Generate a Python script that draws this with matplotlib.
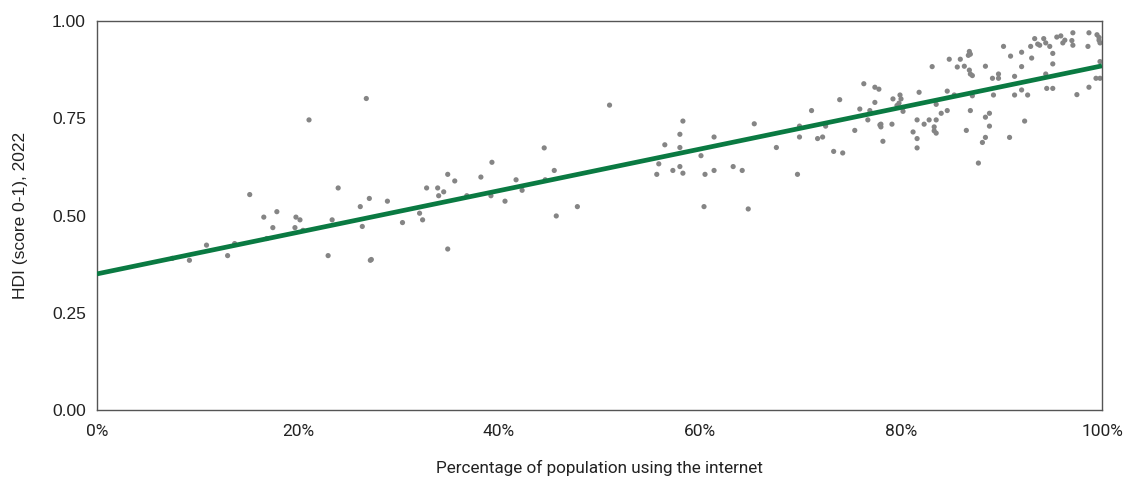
import matplotlib
matplotlib.use("Agg")
import matplotlib.pyplot as plt
from matplotlib.ticker import FuncFormatter

plt.rcParams['font.family'] = ['Liberation Sans', 'DejaVu Sans']

internet_pct = [
    7.5, 9.2, 10.9, 13.0, 13.7, 15.2, 16.6, 16.9, 17.5, 17.9, 19.7, 19.8, 20.2, 20.5, 21.1,
    23.0, 23.4, 24.0, 26.2, 26.4, 26.8, 27.1, 27.2, 27.3, 28.9, 30.4, 32.1, 32.4, 32.8, 33.9,
    34.0, 34.5, 34.9, 34.9, 35.6, 36.8, 38.2, 39.2, 39.3, 40.6, 41.7, 42.3, 44.5, 44.6, 45.5,
    45.7, 47.8, 51.0,
    55.7, 55.9, 56.5, 57.3, 58.0, 58.0, 58.0, 58.3, 58.3, 60.1, 60.4, 60.5, 61.4, 61.4, 63.3,
    64.2, 64.8, 65.4, 67.6, 69.7, 69.9, 69.9, 71.1, 71.7, 72.2, 72.5, 73.3, 73.9, 74.2, 75.4,
    75.9, 76.3, 76.7, 76.9, 77.4, 77.4, 77.8, 77.9, 78.0, 78.0, 78.2, 79.1, 79.2, 79.6, 79.8,
    79.9, 80.0, 80.2, 80.2, 81.2, 81.6, 81.6, 81.6, 81.8, 82.3, 82.8, 83.1, 83.3, 83.3, 83.5,
    83.5, 83.5, 84.0, 84.6, 84.6, 84.8, 85.3, 85.6, 85.9, 86.3, 86.5, 86.7, 86.8, 86.8, 86.9,
    86.9, 86.9, 87.1, 87.1, 87.7, 88.1, 88.4, 88.4, 88.4, 88.8, 88.8, 89.1, 89.2, 89.7, 89.7,
    90.2, 90.8, 90.9, 91.3, 91.3, 92.0, 92.0, 92.0, 92.3, 92.6, 92.9, 93.0, 93.3, 93.6, 93.8,
    94.2, 94.4, 94.4, 94.5, 94.8, 95.1, 95.1, 95.1, 95.5, 95.9, 96.1, 96.3, 97.0, 97.1, 97.1,
    97.5, 98.6, 98.7, 98.7, 99.4, 99.5, 99.7, 99.7, 99.8, 99.8, 99.8,
]
hdi_score = [
    0.390, 0.385, 0.424, 0.397, 0.428, 0.554, 0.496, 0.441, 0.469, 0.510, 0.469, 0.496, 0.489, 0.462, 0.746,
    0.397, 0.489, 0.571, 0.523, 0.472, 0.801, 0.544, 0.385, 0.387, 0.537, 0.482, 0.506, 0.489, 0.571, 0.571,
    0.551, 0.561, 0.606, 0.414, 0.589, 0.551, 0.599, 0.551, 0.637, 0.537, 0.592, 0.565, 0.674, 0.592, 0.616,
    0.499, 0.523, 0.784,
    0.606, 0.633, 0.682, 0.616, 0.709, 0.675, 0.626, 0.743, 0.609, 0.654, 0.523, 0.606, 0.702, 0.616, 0.626,
    0.616, 0.517, 0.736, 0.675, 0.606, 0.730, 0.702, 0.770, 0.698, 0.702, 0.730, 0.665, 0.798, 0.661, 0.719,
    0.774, 0.839, 0.746, 0.770, 0.791, 0.830, 0.825, 0.733, 0.735, 0.728, 0.691, 0.735, 0.800, 0.783, 0.789,
    0.810, 0.800, 0.778, 0.768, 0.715, 0.746, 0.698, 0.674, 0.817, 0.735, 0.746, 0.883, 0.728, 0.718, 0.786,
    0.746, 0.712, 0.763, 0.820, 0.770, 0.902, 0.810, 0.882, 0.902, 0.884, 0.719, 0.912, 0.922, 0.874, 0.915,
    0.864, 0.770, 0.860, 0.808, 0.635, 0.688, 0.884, 0.753, 0.701, 0.763, 0.730, 0.853, 0.810, 0.864, 0.853,
    0.935, 0.701, 0.910, 0.858, 0.810, 0.920, 0.883, 0.823, 0.743, 0.810, 0.935, 0.905, 0.955, 0.941, 0.938,
    0.955, 0.944, 0.864, 0.827, 0.935, 0.917, 0.890, 0.827, 0.959, 0.962, 0.944, 0.951, 0.950, 0.938, 0.970,
    0.811, 0.935, 0.970, 0.830, 0.853, 0.965, 0.958, 0.951, 0.944, 0.896, 0.853,
]
trend_x = [0, 100]
trend_y = [0.35, 0.885]

x_ticks = [0, 20, 40, 60, 80, 100]
y_ticks = [0.0, 0.25, 0.5, 0.75, 1.0]

fig = plt.figure(figsize=(11.26, 4.8), dpi=100)
ax = fig.add_axes([0.0861, 0.1458, 0.8926, 0.8102])

ax.scatter(internet_pct, hdi_score, s=14, color='#858585', edgecolors='none', zorder=2)
ax.plot(trend_x, trend_y, color='#0a7a42', linewidth=3.4, solid_capstyle='butt', zorder=3)

ax.set_xlim(0, 100)
ax.set_ylim(0, 1)
ax.set_xticks(x_ticks)
ax.set_yticks(y_ticks)
ax.xaxis.set_major_formatter(FuncFormatter(lambda v, p: f"{int(v)}%"))
ax.yaxis.set_major_formatter(FuncFormatter(lambda v, p: f"{v:.2f}"))
ax.tick_params(axis='both', length=0, colors='#222222')
ax.tick_params(axis='x', pad=10, labelsize=12.5)
ax.tick_params(axis='y', pad=8, labelsize=12.5)
for lbl in ax.get_xticklabels():
    lbl.set_family(['Roboto', 'DejaVu Sans'])

for sp in ax.spines.values():
    sp.set_color('#555555')
    sp.set_linewidth(1.0)

ax.set_xlabel('Percentage of population using the internet', fontsize=12.3, color='#222222',
              labelpad=15, family=['Roboto', 'DejaVu Sans'])
ax.set_ylabel('HDI (score 0-1), 2022', fontsize=12.5, color='#222222', labelpad=17)

fig.savefig('out.png', dpi=100, facecolor='white')
